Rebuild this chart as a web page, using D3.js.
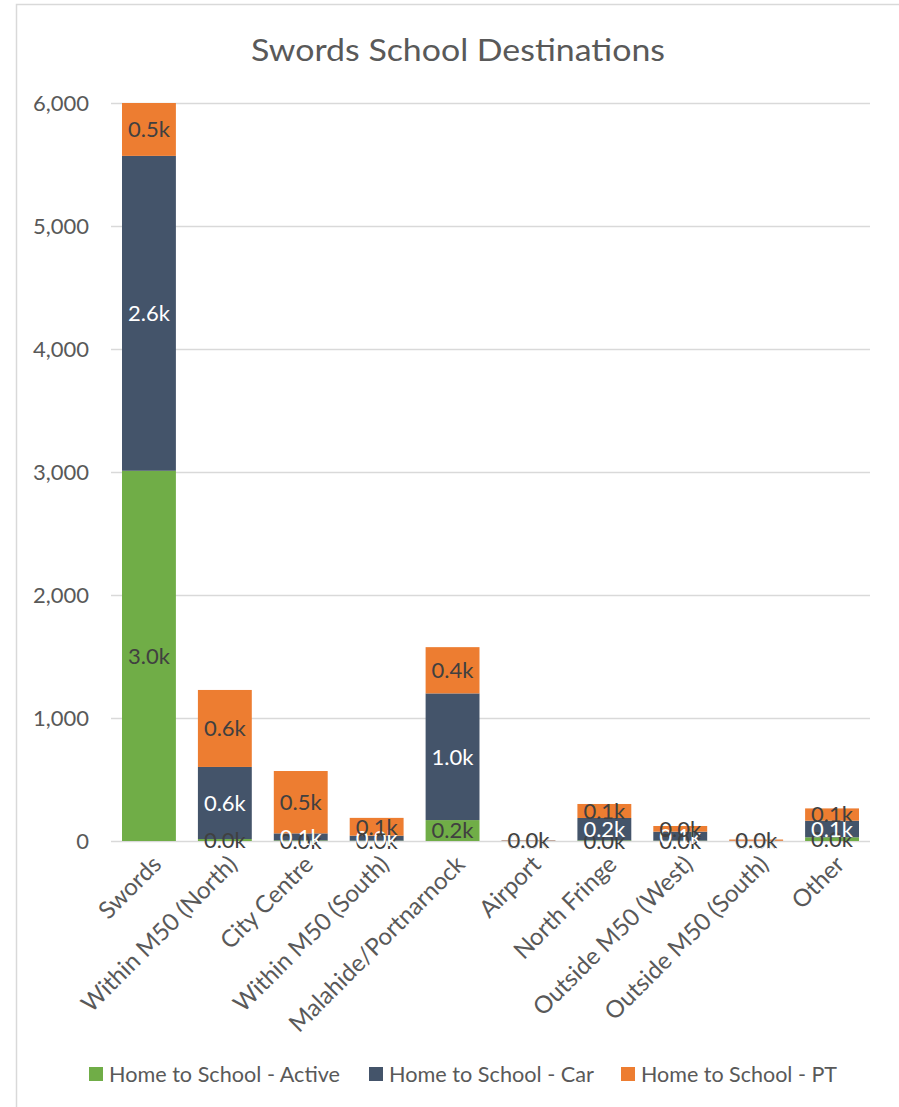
<!DOCTYPE html>
<html>
<head>
<meta charset="utf-8">
<script src="https://cdn.jsdelivr.net/npm/d3@7"></script>
<style>
  html, body { margin: 0; padding: 0; background: #fff; }
  svg { display: block; font-family: Lato, "Open Sans", sans-serif; }
</style>
</head>
<body>
<svg id="chart" width="899" height="1107"></svg>
<script>
// Destination categories for school trips from Swords
const categories = [
  "Swords", "Within M50 (North)", "City Centre", "Within M50 (South)",
  "Malahide/Portnarnock", "Airport", "North Fringe", "Outside M50 (West)",
  "Outside M50 (South)", "Other"
];
// Trips by mode, one value per category
const activeTrips = [3010, 16, 5, 3, 170, 0, 5, 3, 0, 30];
const carTrips    = [2560, 586, 57, 40, 1030, 3, 182, 73, 2, 135];
const ptTrips     = [470, 626, 507, 145, 376, 2, 114, 46, 10, 100];

const seriesNames = ["Home to School - Active", "Home to School - Car", "Home to School - PT"];
const seriesColors = ["#70ad47", "#44546a", "#ed7d31"];
const labelColors = ["#404040", "#ffffff", "#404040"];
const yTicks = [0, 1000, 2000, 3000, 4000, 5000, 6000];
const yMax = 6000;

const svg = d3.select("#chart");

// chart frame (clipped on the right and bottom by the page)
svg.append("rect")
  .attr("x", 16.5).attr("y", 4.5)
  .attr("width", 1000).attr("height", 1200)
  .attr("fill", "#fff").attr("stroke", "#d9d9d9").attr("stroke-width", 1.5);

const plot = { left: 111, right: 870, top: 103, bottom: 841 };

const x = d3.scaleBand()
  .domain(categories)
  .range([plot.left, plot.right])
  .paddingInner(0.29)
  .paddingOuter(0.145);

const y = d3.scaleLinear()
  .domain([0, yMax])
  .range([plot.bottom, plot.top]);

// Title
svg.append("text")
  .attr("x", 458).attr("y", 61)
  .attr("text-anchor", "middle")
  .attr("fill", "#595959")
  .attr("font-size", 31)
  .attr("textLength", 414)
  .attr("lengthAdjust", "spacingAndGlyphs")
  .text("Swords School Destinations");

// Gridlines and y labels
const yAxis = d3.axisLeft(y)
  .tickValues(yTicks)
  .tickFormat(d3.format(","))
  .tickSize(-(plot.right - plot.left))
  .tickPadding(22);

const gy = svg.append("g")
  .attr("transform", `translate(${plot.left},0)`)
  .call(yAxis);
gy.select(".domain").remove();
gy.selectAll(".tick line").attr("stroke", "#d9d9d9").attr("stroke-width", 1.5);
gy.selectAll(".tick text")
  .attr("fill", "#595959")
  .attr("font-size", 22)
  .attr("font-family", "Lato, sans-serif");

// Stacked data
const rows = categories.map((c, i) => ({
  category: c,
  active: activeTrips[i], car: carTrips[i], pt: ptTrips[i]
}));
const stack = d3.stack().keys(["active", "car", "pt"]);
const layers = stack(rows);

svg.append("clipPath").attr("id", "plotClip")
  .append("rect")
  .attr("x", plot.left).attr("y", plot.top)
  .attr("width", plot.right - plot.left).attr("height", plot.bottom - plot.top);

const barsG = svg.append("g").attr("clip-path", "url(#plotClip)");
layers.forEach((layer, li) => {
  barsG.selectAll(null)
    .data(layer)
    .join("rect")
    .attr("x", d => x(d.data.category))
    .attr("width", x.bandwidth())
    .attr("y", d => y(d[1]))
    .attr("height", d => Math.max(0, y(d[0]) - y(d[1])))
    .attr("fill", seriesColors[li]);
});

// Value labels, centred in the visible part of each segment
const fmt = v => (v / 1000).toFixed(1) + "k";
const labelsG = svg.append("g");
layers.forEach((layer, li) => {
  labelsG.selectAll(null)
    .data(layer)
    .join("text")
    .attr("x", d => x(d.data.category) + x.bandwidth() / 2)
    .attr("y", d => {
      const top = Math.min(d[1], yMax), bot = Math.min(d[0], yMax);
      return (y(top) + y(bot)) / 2;
    })
    .attr("dy", "0.36em")
    .attr("text-anchor", "middle")
    .attr("font-size", 22)
    .attr("fill", labelColors[li])
    .text(d => fmt(d[1] - d[0]));
});

// Category axis labels
const gx = svg.append("g")
  .attr("transform", `translate(0,${plot.bottom})`)
  .call(d3.axisBottom(x).tickSize(0).tickPadding(0));
gx.select(".domain").remove();
gx.selectAll(".tick text")
  .attr("fill", "#595959")
  .attr("font-size", 24)
  .attr("font-family", "Lato, sans-serif")
  .attr("text-anchor", "end")
  .attr("transform", "translate(8,19) rotate(-45)")
  .attr("dy", "0.35em")
  .attr("y", 0);

// Legend
const legendX = [89, 369, 621];
const legendW = [231, 205, 196];
const lg = svg.append("g");
seriesNames.forEach((name, i) => {
  lg.append("rect")
    .attr("x", legendX[i]).attr("y", 1067)
    .attr("width", 14).attr("height", 14)
    .attr("fill", seriesColors[i]);
  lg.append("text")
    .attr("x", legendX[i] + 20).attr("y", 1082)
    .attr("fill", "#595959")
    .attr("font-size", 21)
    .attr("textLength", legendW[i])
    .attr("lengthAdjust", "spacingAndGlyphs")
    .text(name);
});
</script>
</body>
</html>
